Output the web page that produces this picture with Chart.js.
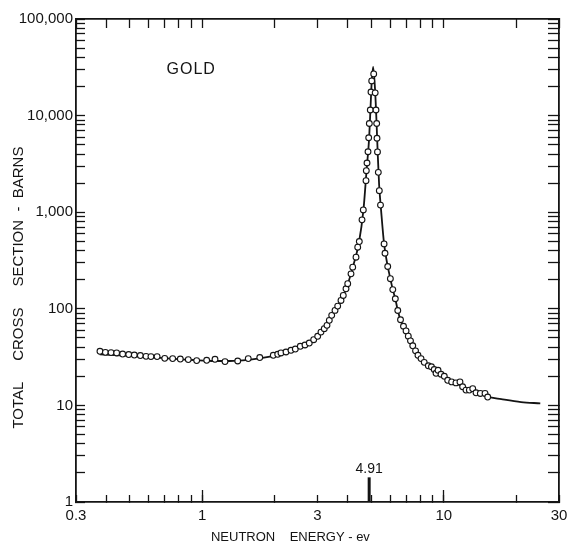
<!DOCTYPE html>
<html>
<head>
<meta charset="utf-8">
<script src="https://cdn.jsdelivr.net/npm/chart.js@4"></script>
<style>
  html, body { margin: 0; padding: 0; background: #fff; }
</style>
</head>
<body>
<canvas id="Courbe" width="567" height="544"></canvas>
<script>
// measured points (open circles), energy in eV, cross section in barns
const pointEnergy = [
  0.377, 0.397, 0.419, 0.442, 0.468, 0.496, 0.523, 0.554, 0.585, 0.613,
  0.65, 0.699, 0.754, 0.811, 0.875, 0.948, 1.043, 1.129, 1.242, 1.402,
  1.55, 1.73, 1.968, 2.053, 2.118, 2.222, 2.33, 2.428, 2.546, 2.663,
  2.774, 2.893, 3.005, 3.101, 3.2, 3.284, 3.357, 3.435, 3.545, 3.637,
  3.753, 3.836, 3.937, 4.002, 4.129, 4.197, 4.331, 4.402, 4.469, 4.586,
  4.643, 4.764, 4.778, 4.81, 4.856, 4.888, 4.917, 4.963, 4.996, 5.03,
  5.127, 5.2, 5.24, 5.275, 5.291, 5.315, 5.357, 5.408, 5.47, 5.66,
  5.71, 5.86, 6.01, 6.15, 6.3, 6.45, 6.62, 6.81, 6.98, 7.13,
  7.28, 7.44, 7.64, 7.82, 8.05, 8.3, 8.63, 8.89, 9.13, 9.29,
  9.47, 9.74, 10.05, 10.38, 10.78, 11.23, 11.67, 11.97, 12.36, 12.76,
  13.18, 13.6, 14.17, 14.82, 15.2
];
const pointSigma = [
  36.3, 35.4, 35.2, 34.9, 34.0, 33.6, 33.2, 32.8, 32.2, 32.0,
  32.0, 30.7, 30.5, 30.2, 29.8, 29.1, 29.3, 30.0, 28.4, 28.8,
  30.5, 31.3, 33.0, 33.8, 34.9, 35.7, 37.2, 38.3, 40.9, 42.2,
  44.2, 47.9, 51.9, 57.4, 62.3, 67.4, 75.9, 85.5, 96.3, 106.6,
  122, 137.5, 161, 182, 230, 270, 342, 434, 497, 833,
  1056, 2121, 2690, 3231, 4227, 5897, 8283, 11430, 17530, 22880,
  27030, 17200, 11430, 8283, 5830, 4207, 2584, 1672, 1184, 470,
  376, 274, 205, 158, 127, 96, 77, 66, 59, 52.1,
  46.6, 41.4, 36.7, 33.0, 30.5, 27.9, 25.7, 25.1, 23.5, 21.5,
  23.1, 21.0, 20.0, 18.2, 17.5, 17.1, 17.5, 15.6, 14.4, 14.4,
  14.9, 13.5, 13.3, 13.3, 12.2
];

// solid curve drawn through the points
const curveEnergy = [
  0.376, 0.5, 0.65, 0.85, 1.05, 1.3, 1.55, 1.8, 2.05, 2.3,
  2.6, 2.9, 3.2, 3.45, 3.7, 3.95, 4.2, 4.45, 4.65, 4.8,
  4.9, 4.97, 5.03, 5.1, 5.2, 5.27, 5.33, 5.4, 5.5, 5.66,
  5.86, 6.01, 6.15, 6.3, 6.45, 6.62, 6.81, 7.0, 7.3, 7.64,
  8.05, 8.6, 9.3, 10.0, 10.8, 11.7, 12.7, 13.7, 15.2, 17.3,
  20.9, 25.1
];
const curveSigma = [
  33.8, 32.6, 31.2, 29.8, 29.0, 28.8, 29.6, 31.2, 33.4, 36.5,
  41.2, 47.8, 61, 84, 113, 163, 270, 480, 1060, 2900,
  5500, 11500, 22500, 32000, 17500, 8300, 3900, 1900, 1050, 470,
  275, 205, 158, 127, 96, 77, 66, 58, 46.5, 37,
  30.5, 26, 22.5, 20.0, 17.6, 16.2, 14.7, 13.6, 12.3, 11.6,
  10.8, 10.5
];

// resonance marker at 4.91 eV
const markerEnergy = [4.91, 4.91];
const markerSigma = [1, 1.8];

const xTickValues = [0.3, 0.4, 0.5, 0.6, 0.7, 0.8, 0.9, 1, 2, 3, 4, 5, 6, 7, 8, 9, 10, 20, 30];
const xMajorValues = [1, 10];
const xLabelValues = [0.3, 1, 3, 10, 30];
const xLabelText = ["0.3", "1", "3", "10", "30"];

const yLabelValues = [1, 10, 100, 1000, 10000, 100000];
const yLabelText = ["1", "10", "100", "1,000", "10,000", "100,000"];
let yTickValues = [];
for (let d = 0; d < yLabelValues.length - 1; d++) {
  for (let m = 1; m <= 9; m++) yTickValues.push(yLabelValues[d] * m);
}
yTickValues.push(100000);

const INK = "#141414";
const FONT = '"Liberation Sans", Arial, sans-serif';

function toXY(xs, ys) {
  return xs.map((x, i) => ({ x: x, y: ys[i] }));
}

function xLabel(value) {
  const i = xLabelValues.indexOf(value);
  return i >= 0 ? xLabelText[i] : "";
}
function yLabel(value) {
  const i = yLabelValues.indexOf(value);
  return i >= 0 ? yLabelText[i] : "";
}
function noLabel() {
  return "";
}

function logAxis(position, min, max, tickValues, size, tickLength, callback) {
  return {
    type: "logarithmic",
    position: position,
    min: min,
    max: max,
    afterBuildTicks: (scale) => {
      scale.ticks = tickValues.map((v) => ({ value: v }));
    },
    afterFit: (scale) => {
      if (position === "top" || position === "bottom") scale.height = size;
      else scale.width = size;
      // no extra room for the end labels, the frame is fixed
      scale.paddingLeft = 0;
      scale.paddingRight = 0;
      scale.paddingTop = 0;
      scale.paddingBottom = 0;
    },
    grid: {
      drawOnChartArea: false,
      drawTicks: true,
      tickLength: tickLength,
      color: INK,
      tickColor: INK,
      tickWidth: 1.3,
    },
    border: { display: true, color: INK, width: 1.8 },
    ticks: {
      autoSkip: false,
      maxRotation: 0,
      color: INK,
      font: { family: FONT, size: 15 },
      callback: callback,
    },
  };
}

const textMarks = {
  id: "textMarks",
  afterDatasetsDraw(chart) {
    const c = chart.ctx;
    const xs = chart.scales.x;
    const ys = chart.scales.y;
    c.save();
    c.fillStyle = INK;
    c.textAlign = "center";
    c.textBaseline = "middle";
    c.font = "16px " + FONT;
    c.letterSpacing = "1px";
    c.fillText("GOLD", xs.getPixelForValue(0.9), ys.getPixelForValue(30000));
    c.letterSpacing = "0px";
    c.font = "14px " + FONT;
    c.fillText("4.91", xs.getPixelForValue(4.91), ys.getPixelForValue(2.2));
    c.restore();
  },
};

let ctx = document.getElementById("Courbe").getContext("2d");

let xAxis = logAxis("bottom", 0.3, 30, xTickValues, 42, -7, xLabel);
xAxis.ticks.padding = 12;
xAxis.title = {
  display: true,
  text: "NEUTRON    ENERGY - ev" + " ".repeat(15),
  color: INK,
  font: { family: FONT, size: 13, lineHeight: 1 },
  padding: { top: 0, bottom: 0 },
};

// longer marks at 1 and 10, laid flat on the bottom edge
let xMajor = logAxis("bottom", 0.3, 30, xMajorValues, 0, -12, noLabel);
xMajor.weight = -1;
xMajor.border = { display: false };

let yAxis = logAxis("left", 1, 100000, yTickValues, 76, -9, yLabel);
yAxis.ticks.padding = 12;
yAxis.title = {
  display: true,
  text: "TOTAL     CROSS     SECTION  -  BARNS" + " ".repeat(13),
  color: INK,
  font: { family: FONT, size: 15, lineHeight: 1 },
  padding: { top: 11, bottom: 0 },
};

let Courbe = new Chart(ctx, {
  type: "scatter",
  data: {
    datasets: [
      {
        label: "Gold, measured",
        data: toXY(pointEnergy, pointSigma),
        pointStyle: "circle",
        pointRadius: 2.9,
        pointBorderWidth: 1.1,
        pointBackgroundColor: "#fff",
        pointBorderColor: INK,
        order: 0,
      },
      {
        type: "line",
        label: "Gold, curve",
        data: toXY(curveEnergy, curveSigma),
        borderColor: INK,
        borderWidth: 1.8,
        pointRadius: 0,
        cubicInterpolationMode: "monotone",
        order: 1,
      },
      {
        type: "line",
        label: "4.91 eV",
        data: toXY(markerEnergy, markerSigma),
        borderColor: INK,
        borderWidth: 3,
        pointRadius: 0,
        order: 2,
      },
    ],
  },
  options: {
    responsive: false,
    animation: false,
    layout: { padding: 0 },
    plugins: {
      legend: { display: false },
      tooltip: { enabled: false },
    },
    scales: {
      x: xAxis,
      xMajor: xMajor,
      x2: logAxis("top", 0.3, 30, xTickValues, 19, -9, noLabel),
      y: yAxis,
      y2: logAxis("right", 1, 100000, yTickValues, 8, -11, noLabel),
    },
  },
  plugins: [textMarks],
});
</script>
</body>
</html>
